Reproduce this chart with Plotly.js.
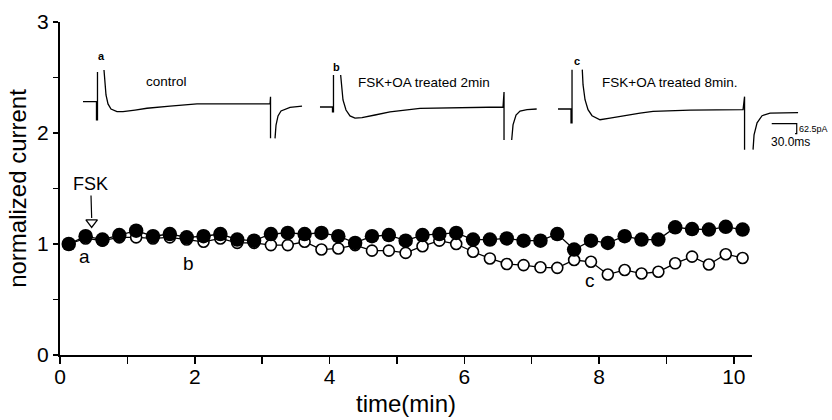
<!DOCTYPE html>
<html><head><meta charset="utf-8">
<script src="https://cdn.plot.ly/plotly-3.0.1.min.js"></script>
<style>html,body{margin:0;padding:0;background:#fff}#chart{width:832px;height:420px}</style>
</head><body><div id="chart"></div>
<script>
// ---- main time course (normalized current vs time) ----
const timeMin = [0.13,0.38,0.63,0.88,1.13,1.38,1.63,1.88,2.13,2.38,2.63,2.88,3.13,3.38,3.63,3.88,4.13,4.38,4.63,4.88,5.13,5.38,5.63,5.88,6.13,6.38,6.63,6.88,7.13,7.38,7.63,7.88,8.13,8.38,8.63,8.88,9.13,9.38,9.63,9.88,10.13];
const filledCurrent = [1.00,1.07,1.04,1.08,1.12,1.07,1.09,1.06,1.07,1.09,1.04,1.03,1.09,1.10,1.09,1.10,1.07,1.01,1.07,1.08,1.03,1.08,1.09,1.10,1.04,1.04,1.05,1.03,1.03,1.09,0.95,1.03,1.01,1.07,1.04,1.04,1.15,1.135,1.13,1.155,1.13];
const openCurrent   = [1.00,1.05,1.03,1.06,1.06,1.05,1.06,1.04,1.02,1.05,1.01,1.01,0.99,0.99,1.02,0.95,0.96,0.99,0.94,0.94,0.92,0.98,1.03,1.00,0.93,0.87,0.82,0.81,0.79,0.785,0.856,0.84,0.725,0.766,0.734,0.75,0.826,0.886,0.815,0.908,0.874];

const xTickVals = [0,1,2,3,4,5,6,7,8,9,10];
const xTickText = ['0','','2','','4','','6','','8','','10'];
const yTickVals = [0,0.5,1,1.5,2,2.5,3];
const yTickText = ['0','','1','','2','','3'];

// ---- inset current traces: time (ms) vs current (pA) ----
const traceA_t = [-16.8,-0.6,-0.6,0.6,0.6,null,8.4,9.0,10.8,13.2,16.8,24,31.2,45.6,60,87.6,120,171.6,207.6,208.2,208.2,null,213.6,214.8,217.2,220.8,231.6,246];
const traceA_i = [0,0,-114,-114,186,null,198,136,42,-14,-46,-62.5,-62.5,-52,-41,-27,-14,-14,-14,31,-229,null,-229,-146,-89,-58,-35,-27];
const traceB_t = [-15.6,-0.6,-0.6,0.6,0.6,null,9.2,10.2,12,15.6,20.4,26.4,34.8,50.4,68.4,104.4,152.4,204,205.2,205.2,null,214.4,216,219.6,224.4,232.8,244.4];
const traceB_i = [0,0,-31,-31,200,null,200,119,44,-19,-56,-69,-66,-50,-31,-9,-3,0,94,-206,null,-206,-112,-50,-25,-16,-12.5];
const traceC_t = [-16.4,-0.8,-0.8,0.4,0.4,null,12.7,13.6,16,19.6,24.4,34,46,58,82,97.6,142,205.6,207.4,207.4,null,217.6,218.8,222.4,228.4,238,271.6];
const traceC_i = [0,0,-86,-86,246,null,246,152,58,-4,-42,-67,-57.5,-46,-26,-15,-7.5,-4.4,77,-254,null,-254,-161,-86,-42,-26,-23];
const scaleBar_t = [240,270,270,268];
const scaleBar_i = [-92,-92,-154.5,-154.5];

const insetLabels = ['a','b','c'];
const insetTitles = ['control','FSK+OA treated 2min','FSK+OA treated 8min.'];
const pointLabels = ['a','b','c'];
const pointLabelX = [0.37,1.90,7.87];
const pointLabelY = [0.89,0.82,0.675];

const FONT = 'Liberation Sans, Arial, Helvetica, sans-serif';

const inLine = {color:'#000', width:1.3};
const data = [
  {x:timeMin, y:openCurrent, type:'scatter', mode:'lines+markers', xaxis:'x', yaxis:'y',
   line:{color:'#000', width:1.3},
   marker:{symbol:'circle', size:11, color:'#fff', line:{color:'#000', width:1.6}}},
  {x:timeMin, y:filledCurrent, type:'scatter', mode:'lines+markers', xaxis:'x', yaxis:'y',
   line:{color:'#000', width:1.3},
   marker:{symbol:'circle', size:14.5, color:'#000', line:{color:'#000', width:0}}},
  // FSK arrow head (open triangle)
  {x:[0.47], y:[1.195], type:'scatter', mode:'markers', xaxis:'x', yaxis:'y',
   marker:{symbol:'triangle-down-open', size:10, color:'#000', line:{width:1.3}}},
  {x:traceA_t, y:traceA_i, type:'scatter', mode:'lines', xaxis:'x2', yaxis:'y2', line:inLine},
  {x:traceB_t, y:traceB_i, type:'scatter', mode:'lines', xaxis:'x3', yaxis:'y3', line:inLine},
  {x:traceC_t, y:traceC_i, type:'scatter', mode:'lines', xaxis:'x4', yaxis:'y4', line:inLine},
  {x:scaleBar_t, y:scaleBar_i, type:'scatter', mode:'lines', xaxis:'x4', yaxis:'y4', line:{color:'#000', width:1.2}}
];

const hidden = {visible:false, fixedrange:true};
const insetX = [[0.0220,0.3459],[0.3277,0.6516],[0.6369,0.9608]];
const insetY = [[0.6105,0.9108],[0.5946,0.8949],[0.5886,0.8889]];

const annotations = [];
annotations.push({x:0.47, y:1.234, xref:'x', yref:'y', text:'FSK', showarrow:true, arrowhead:0,
  arrowwidth:1.2, arrowcolor:'#000', ax:-1, ay:-34, standoff:0,
  font:{family:FONT, size:18, color:'#000'}});
for (let k=0;k<3;k++){
  annotations.push({x:pointLabelX[k], y:pointLabelY[k], xref:'x', yref:'y', text:pointLabels[k],
    showarrow:false, font:{family:FONT, size:19, color:'#000'}});
}
const insetLabelPos = [[5.6,286],[4.4,252],[6,300]];
const insetTitlePos = [[83.4,125],[108.6,151],[117.4,164]];
for (let k=0;k<3;k++){
  const xr = 'x'+(k+2), yr = 'y'+(k+2);
  annotations.push({x:insetLabelPos[k][0], y:insetLabelPos[k][1], xref:xr, yref:yr, text:'<b>'+insetLabels[k]+'</b>',
    showarrow:false, font:{family:FONT, size:11, color:'#000'}});
  annotations.push({x:insetTitlePos[k][0], y:insetTitlePos[k][1], xref:xr, yref:yr, text:insetTitles[k],
    showarrow:false, font:{family:FONT, size:13.5, color:'#000'}});
}
annotations.push({x:271.6, y:-128, xref:'x4', yref:'y4', text:'62.5pA', xanchor:'left', showarrow:false,
  borderpad:0, font:{family:FONT, size:9, color:'#000'}});
annotations.push({x:237, y:-205, xref:'x4', yref:'y4', text:'30.0ms', xanchor:'left', showarrow:false,
  font:{family:FONT, size:12, color:'#000'}});

const layout = {
  width:832, height:420,
  margin:{l:60, r:0, t:22, b:65, pad:0},
  paper_bgcolor:'#fff', plot_bgcolor:'rgba(0,0,0,0)',
  showlegend:false,
  font:{family:FONT, color:'#000'},
  xaxis:{domain:[0,0.8964], range:[0,10.27], anchor:'y', showline:true, linewidth:2.2, linecolor:'#000',
    ticks:'outside', ticklen:7, tickwidth:1.5, tickcolor:'#000', tickmode:'array',
    tickvals:xTickVals, ticktext:xTickText, showgrid:false, zeroline:false, ticklabelstandoff:-5,
    tickfont:{family:FONT, size:21, color:'#000'},
    title:{text:'time(min)', font:{family:FONT, size:24, color:'#000'}, standoff:8}},
  yaxis:{domain:[0,1], range:[0,3], anchor:'x', showline:true, linewidth:2.2, linecolor:'#000',
    ticks:'outside', ticklen:5, tickwidth:1.5, tickcolor:'#000', tickmode:'array',
    tickvals:yTickVals, ticktext:yTickText, showgrid:false, zeroline:false,
    tickfont:{family:FONT, size:21, color:'#000'},
    title:{text:'normalized current', font:{family:FONT, size:24, color:'#000'}, standoff:4}},
  annotations:annotations
};
for (let k=0;k<3;k++){
  layout['xaxis'+(k+2)] = Object.assign({domain:insetX[k], range:[-24,276], anchor:'y'+(k+2)}, hidden);
  layout['yaxis'+(k+2)] = Object.assign({domain:insetY[k], range:[-312.5,312.5], anchor:'x'+(k+2)}, hidden);
}

Plotly.newPlot('chart', data, layout, {displayModeBar:false, staticPlot:true});
</script></body></html>
